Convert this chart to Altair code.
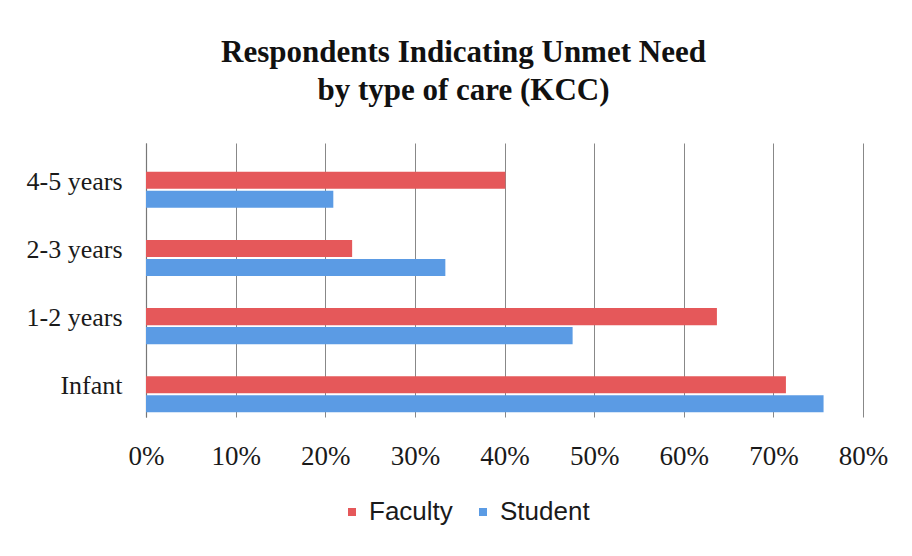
import altair as alt
import pandas as pd

categories = ["4-5 years", "2-3 years", "1-2 years", "Infant"]
series = ["Faculty", "Student"]
faculty = [0.401, 0.230, 0.637, 0.714]
student = [0.209, 0.334, 0.476, 0.756]
x_ticks = [0, 0.1, 0.2, 0.3, 0.4, 0.5, 0.6, 0.7, 0.8]
colors = ["#E5585A", "#5B9BE4"]

rows = []
for c, f, s in zip(categories, faculty, student):
    rows.append({"care": c, "group": "Faculty", "value": f})
    rows.append({"care": c, "group": "Student", "value": s})
df = pd.DataFrame(rows)

serif = "Liberation Serif"

chart = alt.Chart(df).mark_bar().encode(
    y=alt.Y("care:N", sort=categories,
            scale=alt.Scale(paddingInner=0.472, paddingOuter=0.245, align=0.86),
            axis=alt.Axis(title=None, ticks=False, labelFont=serif, labelFontSize=26,
                          labelColor="#1a1a1a", labelPadding=24, labelOffset=-8,
                          domainColor="#777777", domainWidth=1.2, grid=False)),
    yOffset=alt.YOffset("group:N", sort=series, scale=alt.Scale(paddingInner=0.1)),
    x=alt.X("value:Q", scale=alt.Scale(domain=[0, 0.8], nice=False),
            axis=alt.Axis(title=None, format=".0%", values=x_ticks, ticks=False, domain=False,
                          labelFlush=False, labelOverlap=False,
                          labelFont=serif, labelFontSize=27, labelColor="#1a1a1a",
                          labelPadding=26, grid=True, gridColor="#888888", gridWidth=1)),
    color=alt.Color("group:N", sort=series,
                    scale=alt.Scale(domain=series, range=colors),
                    legend=alt.Legend(title=None, orient="none", direction="horizontal",
                                      legendX=193, legendY=356, symbolType="square",
                                      symbolSize=64, symbolStrokeWidth=0,
                                      labelFont="Liberation Sans", labelFontSize=26,
                                      labelColor="#1a1a1a", labelOffset=4,
                                      columnPadding=17)),
).properties(
    width=717,
    height=274,
    title=alt.TitleParams(
        text=["Respondents Indicating Unmet Need", "by type of care (KCC)"],
        font=serif, fontSize=31, fontWeight="bold", color="#111111",
        anchor="middle", frame="group", dx=-41, offset=36, lineHeight=38,
    ),
    autosize=alt.AutoSizeParams(type="none"),
    padding={"left": 138, "top": 135, "right": 41, "bottom": 131},
    background="white",
).configure_view(stroke=None)

chart.save("out.html", embed_options={"renderer": "svg", "actions": False})
